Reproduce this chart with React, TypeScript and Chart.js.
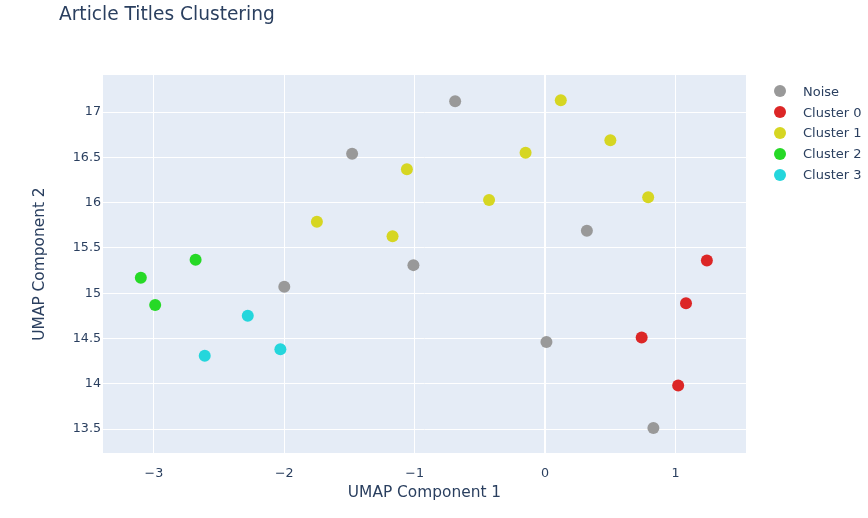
import React, { useEffect, useRef } from "react";
import { Chart, registerables } from "chart.js";

Chart.register(...registerables);

const FONT = "'DejaVu Sans', Verdana, Arial, sans-serif";
const TEXT = "#2a3f5f";

const seriesNames = ["Noise", "Cluster 0", "Cluster 1", "Cluster 2", "Cluster 3"];
const seriesColors = ["#999999", "#dc2626", "#d6d622", "#26d926", "#24d6dc"];

const noiseX = [-0.69, -1.48, 0.32, -1.01, -2.0, 0.01, 0.83];
const noiseY = [17.12, 16.54, 15.69, 15.31, 15.07, 14.46, 13.51];

const cluster0X = [1.24, 1.08, 0.74, 1.02];
const cluster0Y = [15.36, 14.89, 14.51, 13.98];

const cluster1X = [0.12, 0.5, -0.15, -1.06, -0.43, 0.79, -1.75, -1.17];
const cluster1Y = [17.13, 16.69, 16.55, 16.37, 16.03, 16.06, 15.79, 15.63];

const cluster2X = [-2.68, -3.1, -2.99];
const cluster2Y = [15.37, 15.17, 14.87];

const cluster3X = [-2.28, -2.61, -2.03];
const cluster3Y = [14.75, 14.31, 14.38];

const xTicks = [-3, -2, -1, 0, 1];
const yTicks = [13.5, 14, 14.5, 15, 15.5, 16, 16.5, 17];

const allX = [noiseX, cluster0X, cluster1X, cluster2X, cluster3X];
const allY = [noiseY, cluster0Y, cluster1Y, cluster2Y, cluster3Y];

const bgPlugin = {
  id: "plotBg",
  beforeDraw(chart: any) {
    const { ctx, chartArea } = chart;
    ctx.save();
    ctx.fillStyle = "#E5ECF6";
    ctx.fillRect(chartArea.left, chartArea.top, chartArea.right - chartArea.left, chartArea.bottom - chartArea.top);
    ctx.restore();
  },
};

export default function App() {
  const ref = useRef<HTMLCanvasElement | null>(null);

  useEffect(() => {
    document.body.style.margin = "0";
    const canvas = ref.current;
    if (!canvas) return;
    const datasets = seriesNames.map((name, i) => ({
      label: name,
      data: allX[i].map((x, j) => ({ x, y: allY[i][j] })),
      backgroundColor: seriesColors[i],
      borderColor: seriesColors[i],
      borderWidth: 0,
      pointRadius: 6,
      pointHoverRadius: 6,
    }));
    const chart = new Chart(canvas, {
      type: "scatter",
      data: { datasets },
      plugins: [bgPlugin],
      options: {
        animation: false,
        responsive: false,
        maintainAspectRatio: false,
        layout: { padding: { left: 31, top: 75, right: 122, bottom: 16 } },
        plugins: {
          legend: { display: false },
          title: { display: false },
          tooltip: { enabled: false },
        },
        scales: {
          x: {
            type: "linear",
            min: -3.39,
            max: 1.54,
            afterFit(scale: any) {
              scale.height = 49;
            },
            afterBuildTicks(scale: any) {
              scale.ticks = xTicks.map((v) => ({ value: v }));
            },
            border: { display: false },
            grid: {
              color: "#ffffff",
              lineWidth: (c: any) => (c.tick && c.tick.value === 0 ? 2 : 1),
              drawTicks: false,
            },
            ticks: {
              padding: 13,
              color: TEXT,
              font: { family: FONT, size: 12.7 },
              callback: (v: any) => (Number(v) < 0 ? "\u2212" + Math.abs(Number(v)) : String(v)),
            },
            title: {
              display: true,
              text: "UMAP Component 1",
              color: TEXT,
              font: { family: FONT, size: 15.4 },
              padding: 0,
            },
          },
          y: {
            type: "linear",
            min: 13.235,
            max: 17.41,
            afterFit(scale: any) {
              scale.width = 72;
            },
            afterBuildTicks(scale: any) {
              scale.ticks = yTicks.map((v) => ({ value: v }));
            },
            border: { display: false },
            grid: { color: "#ffffff", lineWidth: 1, drawTicks: false },
            ticks: {
              padding: 2,
              color: TEXT,
              font: { family: FONT, size: 12.7 },
              callback: (v: any) => String(v),
            },
            title: {
              display: true,
              text: "UMAP Component 2",
              color: TEXT,
              font: { family: FONT, size: 15.4 },
              padding: 0,
            },
          },
        },
      },
    });
    return () => chart.destroy();
  }, []);

  return (
    <div style={{ position: "absolute", left: 0, top: 0, width: 868, height: 518, background: "#fff", fontFamily: FONT }}>
      <canvas ref={ref} width={868} height={518} style={{ position: "absolute", left: 0, top: 0, width: 868, height: 518 }} />
      <div style={{ position: "absolute", left: 59, top: 2, fontSize: 18.6, color: TEXT, whiteSpace: "nowrap", lineHeight: "24px" }}>
        Article Titles Clustering
      </div>
      <div style={{ position: "absolute", left: 772, top: 81 }}>
        {seriesNames.map((name, i) => (
          <div key={name} style={{ position: "relative", height: 20.8, display: "flex", alignItems: "center" }}>
            <span style={{ display: "inline-block", width: 12, height: 12, borderRadius: 6, background: seriesColors[i], marginLeft: 2 }} />
            <span style={{ marginLeft: 17, fontSize: 13, color: TEXT, whiteSpace: "nowrap" }}>{name}</span>
          </div>
        ))}
      </div>
    </div>
  );
}
